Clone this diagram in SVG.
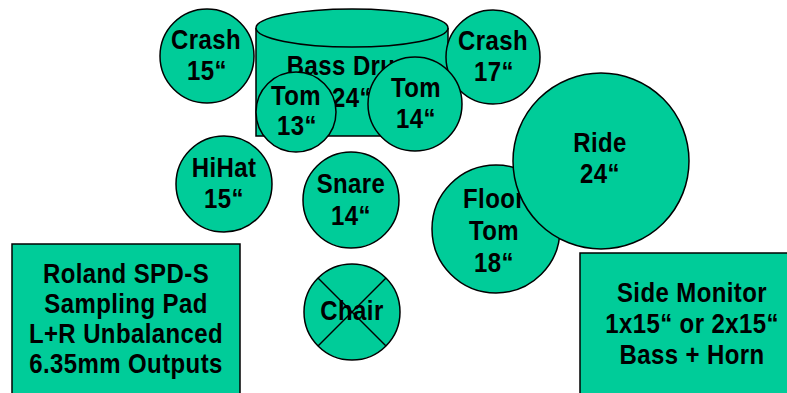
<svg xmlns="http://www.w3.org/2000/svg" width="787" height="393" viewBox="0 0 787 393">
<style>
.s{fill:#00CC99;stroke:#000;stroke-width:1.5}
.t{font-family:"Liberation Sans",Arial,sans-serif;font-weight:bold;font-size:24px;letter-spacing:0.4px;fill:#000;text-anchor:middle;transform-box:fill-box;transform-origin:50% 80%;transform:scaleY(1.12)}
.l{stroke:#000;stroke-width:1.5}
</style>
<rect width="787" height="393" fill="#fff"/>
<g id="bassdrum">
<path class="s" d="M256,28 L256,136 L448,136 L448,28"/>
<ellipse class="s" cx="352" cy="28" rx="96" ry="19"/>
<text class="t" x="352" y="75">Bass Drum</text>
<text class="t" x="352" y="107">24“</text>
</g>
<g id="crash15">
<circle class="s" cx="207" cy="56" r="47"/>
<text class="t" x="206" y="49">Crash</text>
<text class="t" x="207" y="80">15“</text>
</g>
<g id="crash17">
<circle class="s" cx="493" cy="57" r="47"/>
<text class="t" x="493" y="50">Crash</text>
<text class="t" x="494" y="81">17“</text>
</g>
<g id="tom13">
<circle class="s" cx="296" cy="112" r="40"/>
<text class="t" x="296" y="105">Tom</text>
<text class="t" x="297" y="135">13“</text>
</g>
<g id="tom14">
<circle class="s" cx="415" cy="104" r="47"/>
<text class="t" x="416" y="97">Tom</text>
<text class="t" x="416" y="128">14“</text>
</g>
<g id="hihat">
<circle class="s" cx="224" cy="184" r="48"/>
<text class="t" x="224" y="177">HiHat</text>
<text class="t" x="224" y="208">15“</text>
</g>
<g id="snare">
<circle class="s" cx="351" cy="200" r="48"/>
<text class="t" x="351" y="193">Snare</text>
<text class="t" x="351" y="225">14“</text>
</g>
<g id="floortom">
<circle class="s" cx="496" cy="229" r="64"/>
<text class="t" x="494" y="208">Floor</text>
<text class="t" x="494" y="240">Tom</text>
<text class="t" x="494" y="272">18“</text>
</g>
<g id="ride">
<circle class="s" cx="601" cy="161" r="88"/>
<text class="t" x="600" y="152">Ride</text>
<text class="t" x="600" y="183">24“</text>
</g>
<g id="chair">
<circle class="s" cx="352" cy="312" r="48"/>
<line class="l" x1="318" y1="278" x2="386" y2="346"/>
<line class="l" x1="386" y1="278" x2="318" y2="346"/>
<text class="t" x="352" y="320">Chair</text>
</g>
<g id="roland">
<rect class="s" x="12" y="244" width="228" height="160"/>
<text class="t" x="126" y="283">Roland SPD-S</text>
<text class="t" x="126" y="313">Sampling Pad</text>
<text class="t" x="126" y="343">L+R Unbalanced</text>
<text class="t" x="126" y="373">6.35mm Outputs</text>
</g>
<g id="monitor">
<rect class="s" x="580" y="253" width="224" height="150"/>
<text class="t" x="692" y="302">Side Monitor</text>
<text class="t" x="692" y="333">1x15“ or 2x15“</text>
<text class="t" x="692" y="364">Bass + Horn</text>
</g>
<g id="connectors"></g>
</svg>
